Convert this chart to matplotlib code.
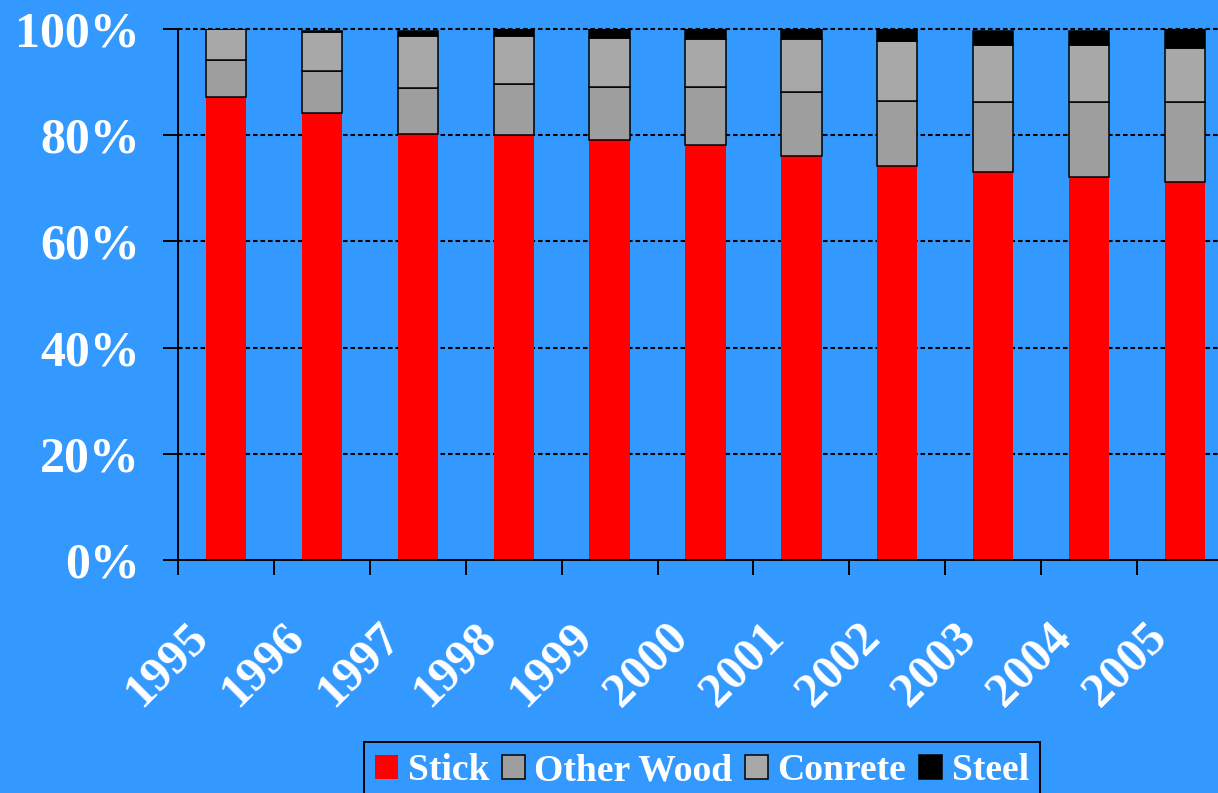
import matplotlib
matplotlib.use("Agg")
import matplotlib.pyplot as plt
import matplotlib.transforms as mtransforms
import numpy as np

# Share of construction type by year (percent)
years = ["1995", "1996", "1997", "1998", "1999", "2000",
         "2001", "2002", "2003", "2004", "2005"]
stick = [87.1, 84.1, 80.3, 80.0, 79.1, 78.2, 76.1, 74.2, 73.0, 72.1, 71.2]
other_wood = [7.1, 8.0, 8.5, 9.6, 10.0, 10.9, 12.0, 12.2, 13.3, 14.2, 15.1]
concrete = [5.8, 7.3, 9.9, 9.1, 9.2, 9.0, 10.0, 11.3, 10.6, 10.6, 10.1]
steel = [0.0, 0.3, 0.9, 1.3, 1.7, 1.9, 1.9, 2.3, 2.7, 2.7, 3.6]

series_names = ["Stick", "Other Wood", "Conrete", "Steel"]
y_ticks = [0, 20, 40, 60, 80, 100]
y_tick_labels = ["0%", "20%", "40%", "60%", "80%", "100%"]

BG = "#3399ff"
W, H = 1218, 793

plt.rcParams["font.family"] = ["Liberation Serif", "DejaVu Serif"]
plt.rcParams["font.weight"] = "bold"

fig = plt.figure(figsize=(W / 100, H / 100), dpi=100, facecolor=BG)
ax = fig.add_axes([178 / W, 1 - 560 / H, 1055 / W, 531 / H], facecolor=BG)

x = np.arange(len(years))
bw = 0.42
stick_a = np.array(stick)
ow_a = np.array(other_wood)
con_a = np.array(concrete)
st_a = np.array(steel)

ax.bar(x, stick_a, bw, color="#ff0000", linewidth=0, zorder=3, label=series_names[0])
ax.bar(x, ow_a, bw, bottom=stick_a, color="#9e9e9e", edgecolor="black",
       linewidth=1.1, zorder=3, label=series_names[1])
ax.bar(x, con_a, bw, bottom=stick_a + ow_a, color="#a8a8a8", edgecolor="black",
       linewidth=1.1, zorder=3, label=series_names[2])
ax.bar(x, st_a, bw, bottom=stick_a + ow_a + con_a, color="black", edgecolor="black",
       linewidth=1.1, zorder=3, label=series_names[3])

ax.set_xlim(-0.5, len(years) - 0.5)
ax.set_ylim(0, 100)

# dotted horizontal gridlines
for v in y_ticks[1:]:
    ax.axhline(v, color="black", linewidth=1.5, dashes=(2.2, 1.4), zorder=1,
               clip_on=False)

for s in ["top", "right"]:
    ax.spines[s].set_visible(False)
for s in ["left", "bottom"]:
    ax.spines[s].set_color("black")
    ax.spines[s].set_linewidth(1.4)
    ax.spines[s].set_zorder(4)

ax.set_yticks(y_ticks)
ax.set_yticklabels(y_tick_labels)
ax.tick_params(axis="y", direction="out", length=11, width=1.4, color="black",
               pad=16.5, labelsize=36, labelcolor="white")

# major ticks on category boundaries, labels on category centres
ax.set_xticks(np.arange(len(years) + 1) - 0.5)
ax.set_xticklabels([])
ax.tick_params(axis="x", which="major", direction="out", length=11, width=1.4,
               color="black")
ax.set_xticks(x, minor=True)
ax.set_xticklabels(years, minor=True, rotation=45, ha="right", va="top",
                   rotation_mode="anchor")
ax.tick_params(axis="x", which="minor", length=0, pad=40, labelsize=35,
               labelcolor="white")
shift = mtransforms.ScaledTranslation(-0.4, 0, fig.dpi_scale_trans)
for lab in ax.get_xticklabels(minor=True):
    lab.set_transform(lab.get_transform() + shift)

leg = fig.legend(loc="upper left", bbox_to_anchor=(364 / W, 1 - 742 / H),
                 ncol=4, frameon=True, fancybox=False, fontsize=27.1,
                 handlelength=0.6, handleheight=0.62, handletextpad=0.26,
                 columnspacing=0.34, borderpad=0.3, borderaxespad=0,
                 facecolor=BG, edgecolor="black", framealpha=1)
leg.get_frame().set_linewidth(1.4)
for t in leg.get_texts():
    t.set_color("white")
    t.set_fontweight("bold")

fig.savefig("out.png", dpi=100, facecolor=BG)
